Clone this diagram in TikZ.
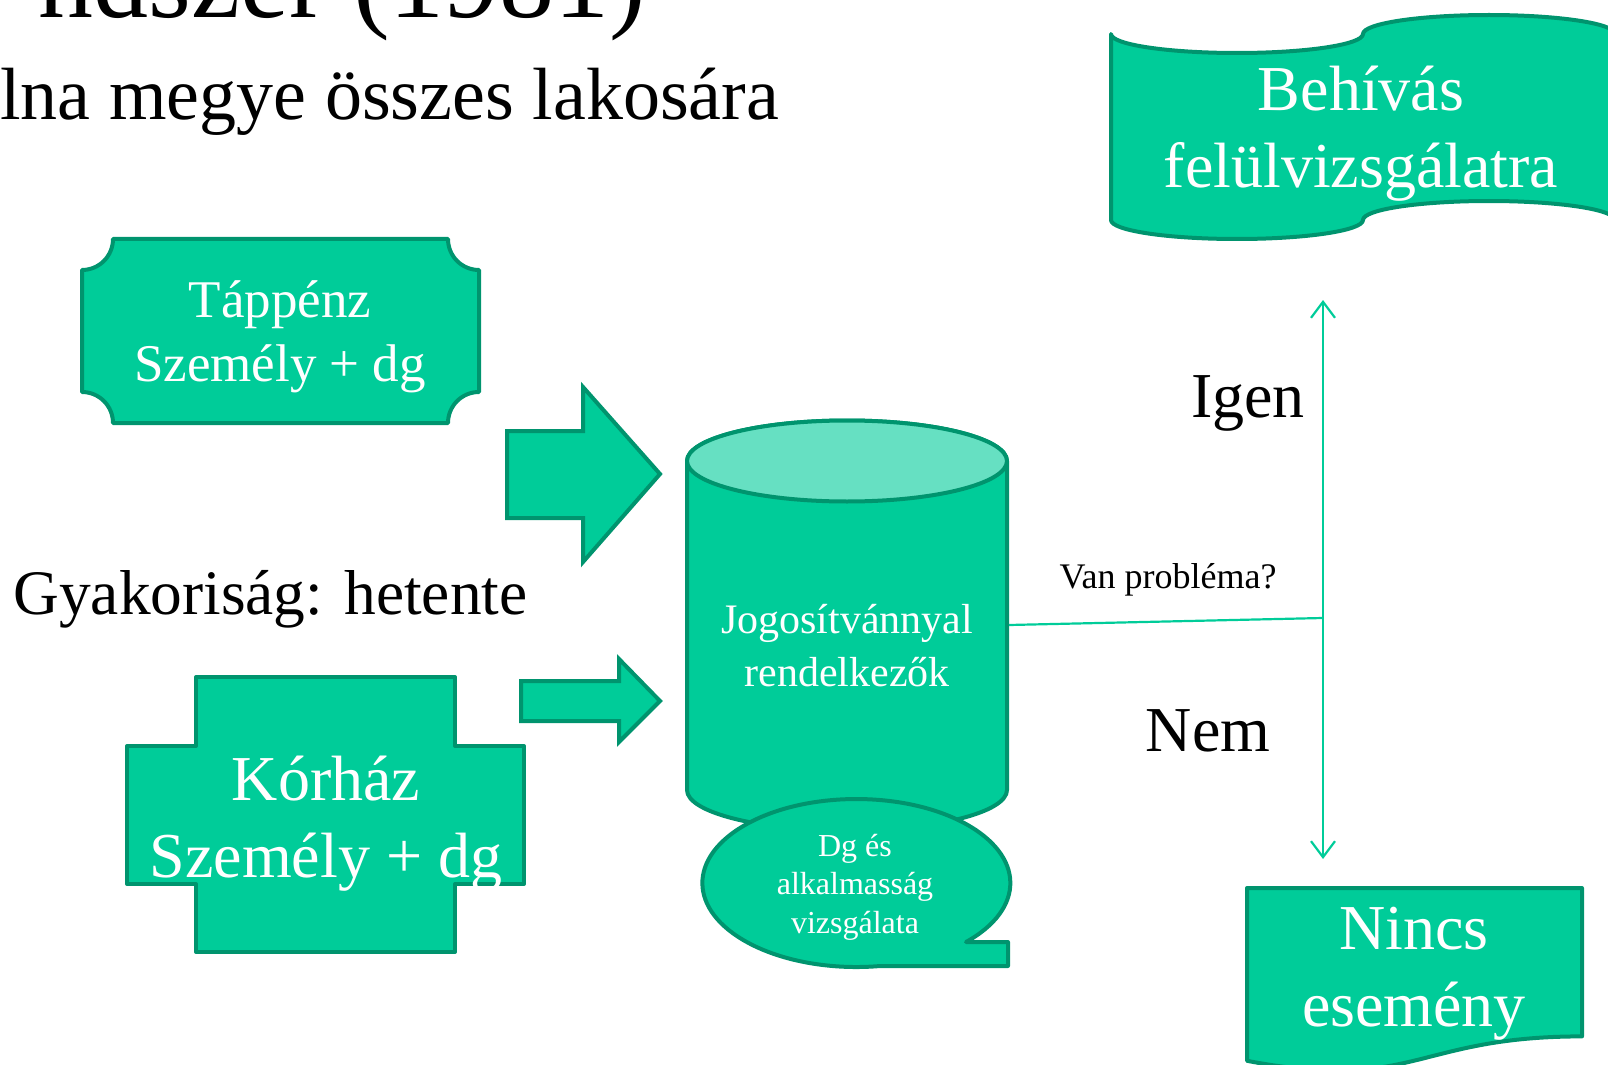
\documentclass[tikz,border=0pt]{standalone}
\usepackage{fontspec}
\setmainfont{Liberation Serif}
\usetikzlibrary{arrows.meta}
\definecolor{gfill}{RGB}{0,204,153}
\definecolor{gline}{RGB}{0,148,110}
\definecolor{gtop}{RGB}{102,224,194}
\definecolor{gconn}{RGB}{0,204,153}
\begin{document}
\begin{tikzpicture}[x=0.5pt,y=0.5pt,
  gshape/.style={fill=gfill,draw=gline,line width=2pt,line join=round},
  wtxt/.style={text=white,align=center,inner sep=0pt},
  btxt/.style={text=black,inner sep=0pt},
  conn/.style={draw=gconn,line width=1.1pt},
  tipV/.style={{Straight Barb[length=8pt,width=12pt]}-{Straight Barb[length=8pt,width=12pt]}}]
\useasboundingbox (0,0) rectangle (1608,-1065);

% header texts (cut off by the frame)
\node[btxt,anchor=base east,font=\fontsize{55}{66}\selectfont] (title) at (647,-18) {ndszer (1981)};
\node[btxt,anchor=base west,font=\fontsize{37}{44}\selectfont] (sub) at (0,-120) {lna megye összes lakosára};

% Tappenz plaque
\draw[gshape] (113,-239) -- (448,-239) arc[start angle=180,end angle=270,radius=31]
  -- (479,-392) arc[start angle=90,end angle=180,radius=31]
  -- (113,-423) arc[start angle=0,end angle=90,radius=31]
  -- (82,-270) arc[start angle=270,end angle=360,radius=31] -- cycle;
\node[wtxt,font=\fontsize{26.5}{31.8}\selectfont] (tap) at (280,-337) {Táppénz\\Személy + dg};

% Korhaz cross
\draw[gshape] (196,-677) -- (455,-677) -- (455,-746) -- (524,-746) -- (524,-884) -- (455,-884)
  -- (455,-952) -- (196,-952) -- (196,-884) -- (127,-884) -- (127,-746) -- (196,-746) -- cycle;
\node[wtxt,font=\fontsize{32}{38.4}\selectfont] (kor) at (326,-824) {Kórház\\Személy + dg};

\node[btxt,anchor=west,font=\fontsize{31.7}{38}\selectfont] (gyak) at (13,-599) {Gyakoriság: hetente};

% block arrows
\draw[gshape,line join=miter] (507,-431) -- (583,-431) -- (583,-387) -- (660,-474) -- (583,-562) -- (583,-518) -- (507,-518) -- cycle;
\draw[gshape,line join=miter] (521,-681) -- (619,-681) -- (619,-659) -- (660,-701) -- (619,-742) -- (619,-721) -- (521,-721) -- cycle;

% cylinder
\draw[gshape] (687,-461) -- (687,-790) arc[start angle=180,end angle=360,x radius=160,y radius=40.5]
  -- (1007,-461) arc[start angle=0,end angle=180,x radius=160,y radius=40.5] -- cycle;
\draw[gshape,fill=gtop] (847,-461) ellipse[x radius=160,y radius=40.5];
\node[wtxt,font=\fontsize{21}{26.5}\selectfont] (cyl) at (847,-646) {Jogosítvánnyal\\rendelkezők};
\coordinate (cylR) at (1009,-625);

% speech bubble
\draw[gshape] (966,-942) arc[start angle=-44.6,end angle=278.9,x radius=154,y radius=84]
  -- (1008,-966) -- (1008,-942) -- cycle;
\node[wtxt,font=\fontsize{16}{19.2}\selectfont] (bub) at (855,-887) {Dg és\\alkalmasság\\vizsgálata};

% decision connectors
\coordinate (junc) at (1323,-618);
\coordinate (up) at (1323,-300);
\coordinate (down) at (1323,-859);
\draw[conn] (cylR) -- (junc);
\draw[conn,tipV] (up) -- (down);
\node[btxt,font=\fontsize{18}{21.6}\selectfont] (van) at (1168,-580) {Van probléma?};
\node[btxt,font=\fontsize{32}{38.4}\selectfont] (igen) at (1248,-403) {Igen};
\node[btxt,font=\fontsize{32}{38.4}\selectfont] (nem) at (1208,-731) {Nem};

% Behivas banner (punched tape)
\draw[gshape] (1111,-34) arc[start angle=180,end angle=360,x radius=126,y radius=19]
  arc[start angle=180,end angle=0,x radius=126,y radius=19]
  -- (1615,-220) arc[start angle=0,end angle=180,x radius=126,y radius=19]
  arc[start angle=0,end angle=-180,x radius=126,y radius=19] -- cycle;
\node[wtxt,font=\fontsize{32}{38.4}\selectfont] (beh) at (1361,-134) {Behívás\\felülvizsgálatra};

% Nincs esemeny document shape
\draw[gshape] (1247,-888) -- (1582,-888) -- (1582,-1036.4)
  .. controls (1414.5,-1036.4) and (1414.5,-1092.8) .. (1247,-1060.8) -- cycle;
\node[wtxt,font=\fontsize{32}{38.4}\selectfont] (nincs) at (1414,-974) {Nincs\\esemény};
\end{tikzpicture}
\end{document}
